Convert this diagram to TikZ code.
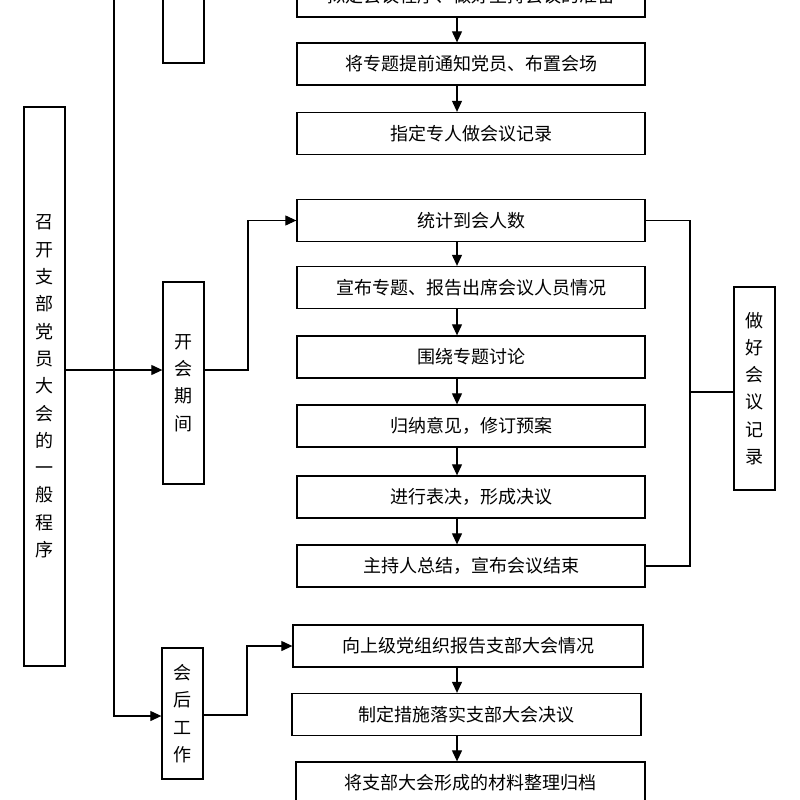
\documentclass[tikz,border=0pt]{standalone}
\usepackage{fontspec}
\newfontfamily\cjk{Noto Sans CJK SC}
\usetikzlibrary{arrows.meta,calc}

\begin{document}
\begin{tikzpicture}[x=1pt, y=-1pt,
  stepbox/.style={draw, line width=1.3pt, fill=white, inner sep=0pt,
    minimum width=348pt, minimum height=42pt,
    font=\cjk\fontsize{18}{20}\selectfont},
  sidebox/.style={draw, line width=1.3pt, fill=white, inner sep=0pt,
    minimum width=41pt, align=center,
    font=\cjk\fontsize{18}{27.3}\selectfont},
  arr/.style={line width=1.1pt, -{Triangle[length=11pt,width=10pt]}},
  lnk/.style={line width=1.1pt}]

  \clip (0,0) rectangle (800,800);
  \fill[white] (0,0) rectangle (800,800);

  % left column
  \node[sidebox, minimum height=559pt] (main) at (44.5,386.5)
  {召\\开\\支\\部\\党\\员\\大\\会\\的\\一\\般\\程\\序};
  \node[sidebox, minimum height=150pt] (prep) at (183.5,-12) {};
  \node[sidebox, minimum height=202pt] (kai) at (183.5,383) {开\\会\\期\\间};
  \node[sidebox, minimum height=131pt] (hou) at (182.5,713.5) {会\\后\\工\\作};
  \node[sidebox, minimum height=203pt] (rec) at (754.5,388.5)
  {做\\好\\会\\议\\记\\录};

  % right column
  \node[stepbox] (p0) at (471,-4) {拟定会议程序、做好主持会议的准备};
  \node[stepbox] (p1) at (471,64) {将专题提前通知党员、布置会场};
  \node[stepbox] (p2) at (471,133.5) {指定专人做会议记录};
  \node[stepbox] (k1) at (471,220.5) {统计到会人数};
  \node[stepbox] (k2) at (471,287.5) {宣布专题、报告出席会议人员情况};
  \node[stepbox] (k3) at (471,357) {围绕专题讨论};
  \node[stepbox] (k4) at (471,426) {归纳意见，修订预案};
  \node[stepbox] (k5) at (471,497) {进行表决，形成决议};
  \node[stepbox] (k6) at (471,566) {主持人总结，宣布会议结束};
  \node[stepbox, minimum width=350pt] (h1) at (468,646) {向上级党组织报告支部大会情况};
  \node[stepbox, minimum width=349pt] (h2) at (466.5,714.5) {制定措施落实支部大会决议};
  \node[stepbox, minimum width=349pt] (h3) at (470.5,783) {将支部大会形成的材料整理归档};

  % arrows down the column
  \coordinate (ax) at (457,0);
  \foreach \a/\b in {p0/p1, p1/p2, k1/k2, k2/k3, k3/k4, k4/k5, k5/k6, h1/h2, h2/h3}
  \draw[arr] (\a.south -| ax) -- (\b.north -| ax);

  % branches
  \coordinate (top) at (114,-40);
  \coordinate (j1) at (114,370);
  \coordinate (j2) at (114,716);
  \coordinate (b1) at (248,370);
  \coordinate (b2) at (247,715);
  \coordinate (b3) at (690,392);

  \draw[lnk] (main.east |- j1) -- (j1);
  \draw[arr] (j1) -- (kai.west |- j1);
  \draw[arr] (top) -- (j2) -- (hou.west |- j2);
  \draw[arr] (kai.east |- b1) -- (b1) |- (k1.west);
  \draw[arr] (hou.east |- b2) -- (b2) |- (h1.west);
  \draw[lnk] (k1.east) -| (b3) |- (k6.east);
  \draw[lnk] (b3) -- (rec.west |- b3);

\end{tikzpicture}
\end{document}
